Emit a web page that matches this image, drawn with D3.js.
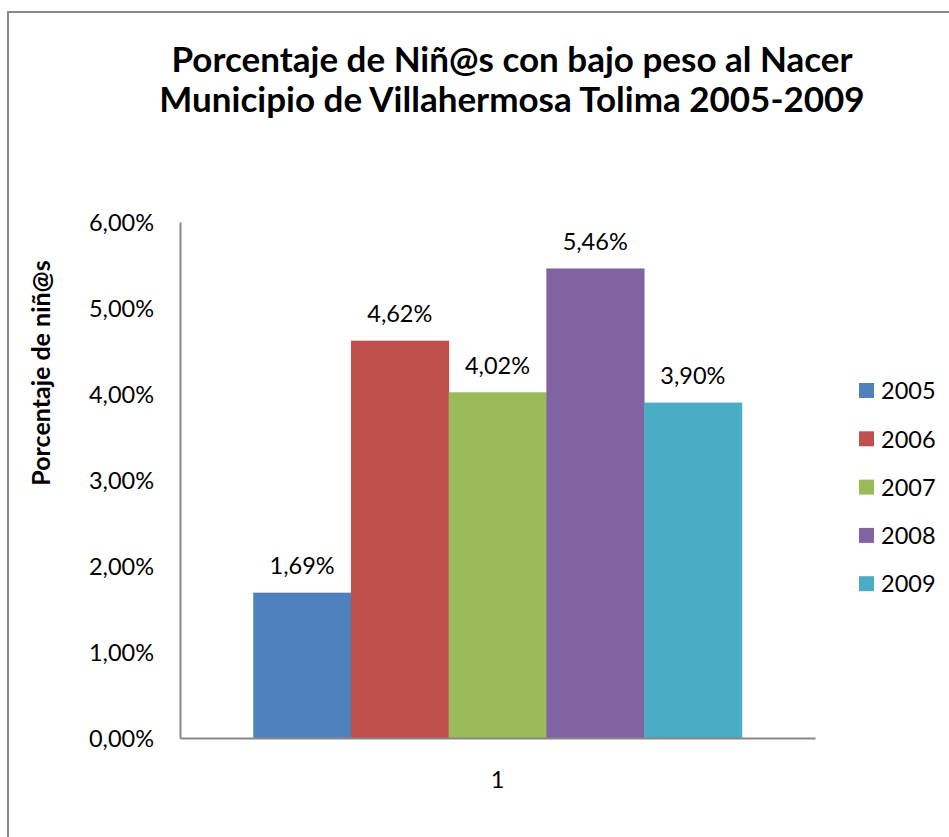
<!DOCTYPE html>
<html>
<head>
<meta charset="utf-8">
<script src="https://cdn.jsdelivr.net/npm/d3@7/dist/d3.min.js"></script>
<style>
  html, body { margin: 0; padding: 0; background: #fff; }
  svg { display: block; font-family: Lato, "Open Sans", sans-serif; }
</style>
</head>
<body>
<div id="chart"></div>
<script>
const years = ['2005', '2006', '2007', '2008', '2009']
const values = [0.0169, 0.0462, 0.0402, 0.0546, 0.039]
const colors = ['#4f81bd', '#c0504d', '#9bbb59', '#8064a2', '#4bacc6']
const categories = ['1']
const yTicks = [0, 0.01, 0.02, 0.03, 0.04, 0.05, 0.06]
const titleLines = ['Porcentaje de Niñ@s con bajo peso al Nacer', 'Municipio de Villahermosa Tolima 2005-2009']

const width = 949
const height = 837
const margin = { top: 222, right: 134, bottom: 99, left: 180 }
const innerW = width - margin.left - margin.right
const innerH = height - margin.top - margin.bottom
const FS = 23.5

const fmt = (v) => (v * 100).toFixed(2).replace('.', ',') + '%'

const svg = d3.select('#chart').append('svg').attr('width', width).attr('height', height)

// outer chart border (right/bottom fall outside the picture)
svg.append('rect')
  .attr('x', 8).attr('y', 12)
  .attr('width', 960).attr('height', 860)
  .attr('fill', 'none').attr('stroke', '#878787').attr('stroke-width', 2)

svg.selectAll('text.title')
  .data(titleLines)
  .join('text')
  .attr('class', 'title')
  .attr('x', 512)
  .attr('y', (d, i) => 72 + i * 40)
  .attr('text-anchor', 'middle')
  .attr('font-size', 35)
  .attr('font-weight', 'bold')
  .text((d) => d)

const g = svg.append('g').attr('transform', `translate(${margin.left},${margin.top})`)

const x0 = d3.scaleBand().domain(categories).range([0, innerW])
const x1 = d3.scaleBand().domain(years).range([0, x0.bandwidth()]).paddingOuter(0.75)
const y = d3.scaleLinear().domain([0, 0.06]).range([innerH, 0])

// bars
const grp = g.append('g').attr('transform', `translate(${x0('1')},0)`)
grp.selectAll('rect')
  .data(years)
  .join('rect')
  .attr('x', (d) => x1(d))
  .attr('width', x1.bandwidth() + 0.5)
  .attr('y', (d, i) => y(values[i]))
  .attr('height', (d, i) => innerH - y(values[i]))
  .attr('fill', (d, i) => colors[i])

grp.selectAll('text')
  .data(years)
  .join('text')
  .attr('x', (d) => x1(d) + x1.bandwidth() / 2)
  .attr('y', (d, i) => y(values[i]) - 27)
  .attr('dy', '0.35em')
  .attr('text-anchor', 'middle')
  .attr('font-size', FS)
  .attr('fill', '#000')
  .text((d, i) => fmt(values[i]))

// y axis
const yAxis = g.append('g')
  .call(d3.axisLeft(y).tickValues(yTicks).tickFormat(fmt).tickSize(0).tickPadding(26))
yAxis.select('.domain').attr('stroke', '#878787').attr('stroke-width', 2)
yAxis.selectAll('text').attr('font-size', FS).attr('font-family', 'Lato, sans-serif').attr('fill', '#000').attr('dy', '0.35em')

// x axis
const xAxis = g.append('g')
  .attr('transform', `translate(0,${innerH})`)
  .call(d3.axisBottom(x0).tickSize(0))
xAxis.select('.domain').attr('stroke', '#878787').attr('stroke-width', 2)
xAxis.selectAll('text')
  .attr('y', 42).attr('dy', '0.35em')
  .attr('font-size', FS).attr('font-family', 'Lato, sans-serif').attr('fill', '#000')

// y axis title
svg.append('text')
  .attr('transform', 'translate(50,373) rotate(-90)')
  .attr('text-anchor', 'middle')
  .attr('font-size', 25)
  .attr('font-weight', 'bold')
  .text('Porcentaje de niñ@s')

// legend
const legend = svg.append('g').attr('transform', 'translate(859,383)')
const item = legend.selectAll('g')
  .data(years)
  .join('g')
  .attr('transform', (d, i) => `translate(0,${i * 48.3})`)
item.append('rect')
  .attr('width', 15).attr('height', 15)
  .attr('fill', (d, i) => colors[i])
item.append('text')
  .attr('x', 22).attr('y', 8)
  .attr('dy', '0.35em')
  .attr('font-size', FS)
  .text((d) => d)
</script>
</body>
</html>
